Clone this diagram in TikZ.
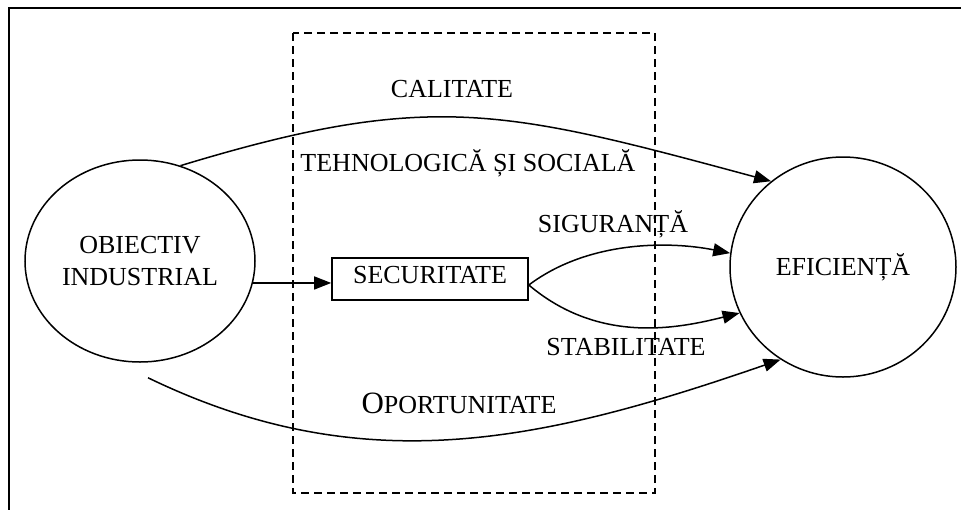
\documentclass[tikz,border=0pt]{standalone}
\usepackage{fontspec}
\setmainfont{Liberation Serif}
\usetikzlibrary{shapes.geometric,arrows.meta,calc}

\tikzset{
  lbl/.style={font=\fontsize{26}{31.7}\selectfont, inner sep=0pt},
  bubble/.style={draw, line width=1.5pt, inner sep=0pt, align=center,
                 font=\fontsize{26}{31.7}\selectfont},
  flow/.style={line width=1.5pt, -{Triangle[length=17pt,width=13pt]}},
  zone/.style={line width=1.5pt, dash pattern=on 8pt off 5pt},
  frame/.style={line width=2.2pt}
}

\begin{document}
\begin{tikzpicture}[x=1pt,y=-1pt]
\useasboundingbox (0,0) rectangle (961,509);

% outer frame (left and top edges)
\draw[frame] (9,510) -- (9,8) -- (962,8);

% dashed zone
\draw[zone] (293,33) rectangle (655,493);

% main nodes
\node[bubble, ellipse, minimum width=230pt, minimum height=202pt] (obj) at (140,261)
  {OBIECTIV\\INDUSTRIAL};
\node[bubble, ellipse, minimum width=226pt, minimum height=220pt] (ef) at (843,267)
  {EFICIENȚĂ};
\node[draw, line width=1.6pt, minimum width=196pt, minimum height=42pt, inner sep=0pt,
      font=\fontsize{26}{31.7}\selectfont, text height=17.5pt, text depth=8pt] (sec) at (430,279)
  {SECURITATE};

% start point of the lower path
\coordinate (ostart) at ([xshift=8pt,yshift=-15pt]obj.south);

% connectors
\draw[flow] (obj.-11.6) -- (obj.-11.6 -| sec.west);
\draw[flow] (obj.67) .. controls +(250,-76) and +(-267,-72) .. (ef.130);
\draw[flow] ([yshift=-6pt]sec.east) .. controls +(60,-45) and +(-60,-12) .. (ef.173);
\draw[flow] ([yshift=-6pt]sec.east) .. controls +(71,60) and +(-60,15) .. (ef.204);
\draw[flow] (ostart) .. controls +(215,104) and +(-240,83) .. (ef.236);

% labels
\node[lbl, anchor=base] (cal) at (452,97) {CALITATE};
\node[lbl, anchor=base] (teh) at (468,171) {TEHNOLOGICĂ ȘI SOCIALĂ};
\node[lbl, anchor=base] (sig) at (613,232) {SIGURANȚĂ};
\node[lbl, anchor=base] (sta) at (626,355) {STABILITATE};
\node[lbl, anchor=base] (opo) at (459,413)
  {{\fontsize{31}{32}\selectfont O}PORTUNITATE};
\end{tikzpicture}
\end{document}
